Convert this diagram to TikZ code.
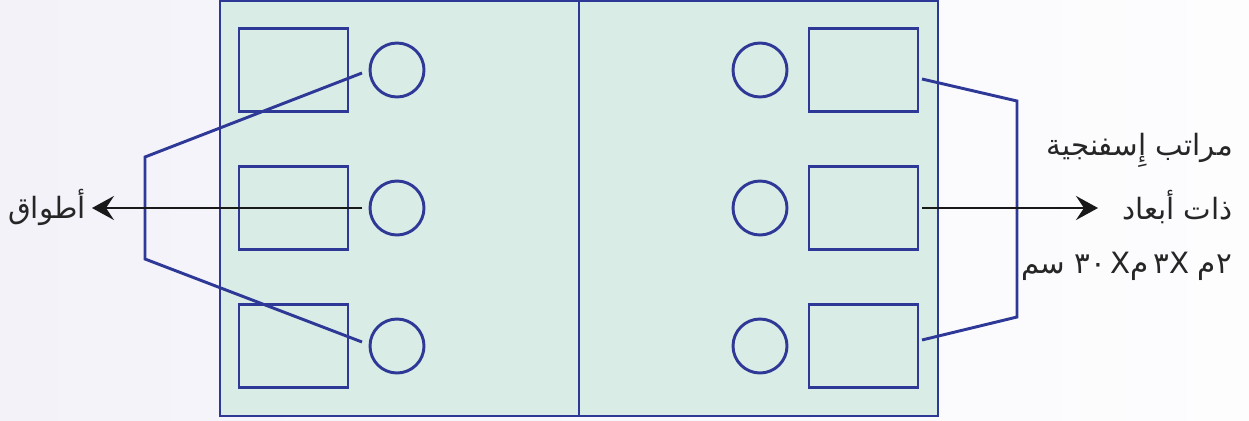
\documentclass[tikz,border=0pt]{standalone}
\usepackage{fontspec}
\newfontfamily\arabicfont[Script=Arabic]{DejaVu Sans}
\TeXXeTstate=1
\usetikzlibrary{arrows.meta}
\definecolor{lineblue}{RGB}{46,56,150}
\definecolor{panel}{RGB}{218,236,230}
\definecolor{bgleft}{RGB}{243,242,249}
\definecolor{bgright}{RGB}{253,253,254}
\begin{document}
\begin{tikzpicture}[x=0.75pt,y=-0.75pt,
  blue line/.style={draw=lineblue,line width=2.2pt},
  slot/.style={blue line,rectangle,minimum width=81.75pt,minimum height=62.25pt,inner sep=0pt,outer sep=0pt},
  ring/.style={blue line,circle,minimum size=40.5pt,inner sep=0pt,outer sep=0pt},
  pointer/.style={draw=black!90,line width=2.1pt,-{Stealth[length=16.5pt,width=18pt,inset=6pt]}},
  label/.style={font=\arabicfont\fontsize{22}{26}\selectfont,inner sep=0pt,text=black!85}]
\useasboundingbox (0,0) rectangle (1249,421);
\fill[left color=bgleft,right color=bgright] (0,0) rectangle (1249,421);
% panel
\draw[blue line,fill=panel] (220,1) rectangle (938,416);
\coordinate (midtop) at (579,1);
\coordinate (midbot) at (579,416);
\draw[blue line] (midtop) -- (midbot);
% slots and rings
\foreach \i/\y in {1/70,2/208,3/346}{
  \node[slot] (L\i) at (293.5,\y) {};
  \node[ring] (C\i) at (397,\y) {};
  \node[ring] (D\i) at (760,\y) {};
  \node[slot] (R\i) at (863.5,\y) {};
}
% left bracket
\coordinate (la) at (362,73);
\coordinate (lb) at (145,157);
\coordinate (lc) at (145,259);
\coordinate (ld) at (362,342);
\draw[blue line,line join=miter] (la) -- (lb) -- (lc) -- (ld);
% right bracket
\coordinate (ra) at (922,79);
\coordinate (rb) at (1017,101);
\coordinate (rc) at (1017,317);
\coordinate (rd) at (922,340);
\draw[blue line,line join=miter] (ra) -- (rb) -- (rc) -- (rd);
% labels
\node[label,anchor=center] (collars) at (47,207) {\beginR أطواق\endR};
\node[label,anchor=east] (mat1) at (1233,150) {\beginR مراتب إِسفنجية\endR};
\node[label,anchor=east] (mat2) at (1233,207) {\beginR ذات أبعاد\endR};
\node[label,anchor=east] (mat3) at (1233,266) {\beginR سم\endR\hspace{7pt}٣٠\hspace{3pt}X\beginR م\endR\hspace{4pt}٣X\hspace{6pt}\beginR م\endR\hspace{1pt}٢};
% arrows
\coordinate (lstart) at (362,208);
\coordinate (ltip) at (92,208);
\coordinate (rstart) at (922,208);
\coordinate (rtip) at (1098,208);
\draw[pointer] (lstart) -- (ltip);
\draw[pointer] (rstart) -- (rtip);
\end{tikzpicture}
\end{document}
